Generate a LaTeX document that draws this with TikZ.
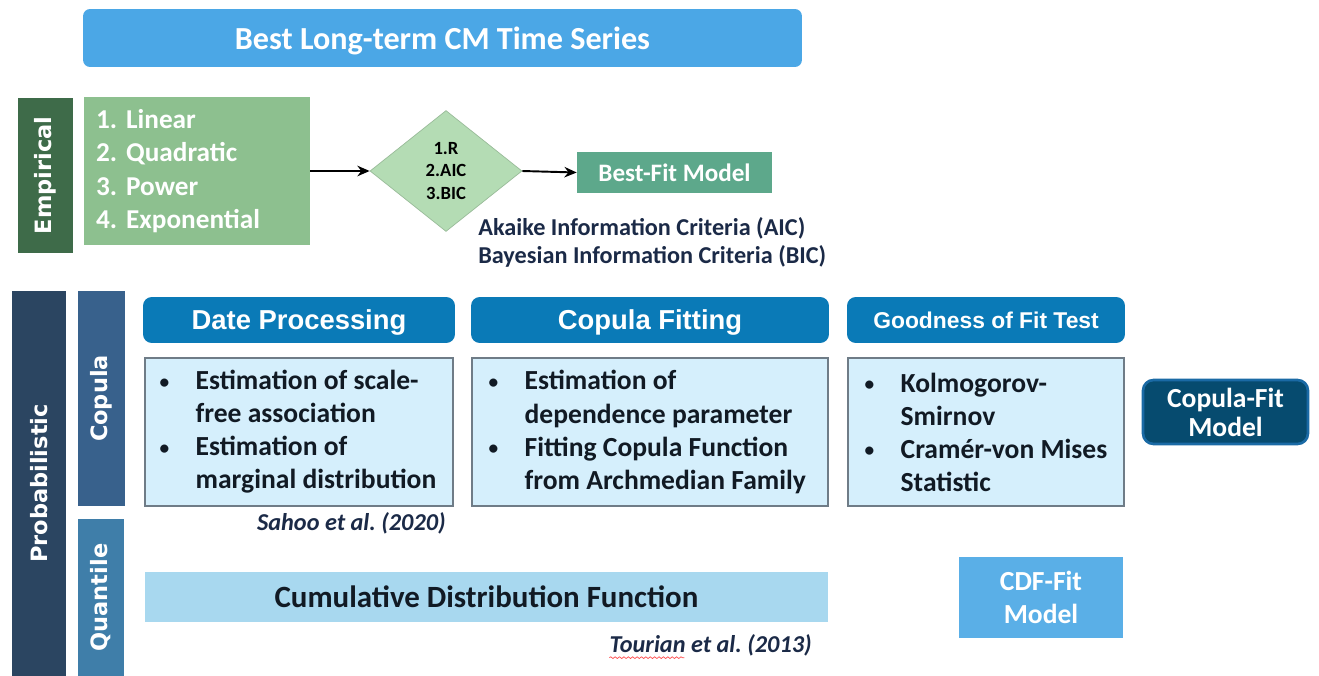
\documentclass[tikz,border=0pt]{standalone}
\usepackage{fontspec}
\setmainfont{Carlito}
\newfontfamily\arialfont{Liberation Sans}
\newfontfamily\dejavufont{DejaVu Sans}
\usetikzlibrary{shapes.geometric,arrows.meta,calc,decorations.pathmorphing}
\frenchspacing

\definecolor{titleblue}{HTML}{4BA7E6}
\definecolor{empgreen}{HTML}{3E6B49}
\definecolor{listgreen}{HTML}{8DC08F}
\definecolor{diagreen}{HTML}{B4DCB4}
\definecolor{bestgreen}{HTML}{5DA88B}
\definecolor{probblue}{HTML}{2B4561}
\definecolor{copblue}{HTML}{38618C}
\definecolor{quantblue}{HTML}{3F7EA9}
\definecolor{hdrblue}{HTML}{0A7AB7}
\definecolor{bodyfill}{HTML}{D5EFFC}
\definecolor{bodyline}{HTML}{6F7C87}
\definecolor{copfit}{HTML}{064B6F}
\definecolor{copfitline}{HTML}{1A6AA5}
\definecolor{cdfbar}{HTML}{A8D8EF}
\definecolor{cdffit}{HTML}{5AAFE7}
\definecolor{ink}{HTML}{111A24}
\definecolor{citeink}{HTML}{1B2A47}

\newcommand{\fsz}[2]{\fontsize{#1}{#2}\selectfont}
\newcommand{\bul}{\makebox[0.72cm][l]{\raisebox{1pt}{\fsz{11}{11}\textbullet}}}
\newcommand{\ind}{\hspace*{0.72cm}}

\tikzset{
  vbar/.style={fill=#1, text=white, inner sep=0pt, rotate=90,
    font=\dejavufont\bfseries\fsz{12.8}{15}},
  hdr/.style={fill=hdrblue, text=white, rounded corners=5pt, inner sep=0pt, text depth=0pt,
    minimum height=0.92cm, font=\arialfont\bfseries\fsz{15.6}{18}},
  body/.style={fill=bodyfill, draw=bodyline, line width=0.8pt, inner sep=0pt,
    minimum height=2.96cm},
  bodytext/.style={anchor=west, align=left, inner sep=0pt, text=ink,
    font=\bfseries\fsz{15.7}{18.8}},
  fitbox/.style={text=white, inner sep=0pt, align=center,
    font=\bfseries\fsz{15.7}{19}},
  cite/.style={inner sep=0pt, text=citeink, font=\bfseries\itshape\fsz{13.8}{16}},
  arr/.style={-{Stealth[length=7pt,width=6pt]}, line width=1.1pt},
}

\begin{document}
\begin{tikzpicture}[x=0.02cm,y=-0.02cm]
    \useasboundingbox (0,0) rectangle (1319,676);
    % Заголовок
    \node[fill=titleblue, rounded corners=4pt, text=white, inner sep=0pt, text depth=0pt,
      minimum width=14.38cm, minimum height=1.16cm,
      font=\bfseries\fsz{18.3}{20}] (title) at (442.5,38) {Best Long-term CM Time Series};
    % Эмпирическая часть
    \node[vbar=empgreen, minimum width=3.1cm, minimum height=1.1cm] (emp) at (45.5,175.5) {Empirical};
    \node[fill=listgreen, text=white, align=left, inner xsep=0.24cm, inner ysep=0pt,
      text width=4.04cm, minimum height=2.96cm,
      font=\bfseries\fsz{15.5}{19}] (models) at (197,171)
      {1. Linear\\2. Quadratic\\3. Power\\4. Exponential};
    \node[diamond, fill=diagreen, draw=diagreen!85!black, line width=0.4pt, inner sep=0pt,
      minimum width=3.04cm, minimum height=2.42cm, align=center,
      font=\bfseries\fsz{10.6}{12.8}] (crit) at (446,171) {1.R\\2.AIC\\3.BIC};
    \node[fill=bestgreen, text=white, inner sep=0pt, minimum width=3.9cm,
      minimum height=0.82cm, font=\bfseries\fsz{14.3}{16}] (best) at (674.5,172.5) {Best-Fit Model};
    \draw[arr] (models.east) -- (crit.west);
    \draw[arr] (crit.east) -- (best.west);
    \node[anchor=west, inner sep=0pt, text=citeink, font=\bfseries\fsz{13.8}{16}] (aic) at (478,228)
      {Akaike Information Criteria (AIC)};
    \node[anchor=west, inner sep=0pt, text=citeink, font=\bfseries\fsz{13.8}{16}] (bic) at (478,256)
      {Bayesian Information Criteria (BIC)};
    % Вероятностная часть
    \node[vbar=probblue, minimum width=7.7cm, minimum height=1.08cm] (prob) at (39,483.5) {Probabilistic};
    \node[vbar=copblue, minimum width=4.3cm, minimum height=0.94cm] (cop) at (101.5,398.5) {Copula};
    \node[vbar=quantblue, minimum width=3.14cm, minimum height=0.92cm] (quant) at (101,597.5) {Quantile};
    \node[hdr, minimum width=6.24cm] (hdp) at (299,320) {Date Processing};
    \node[hdr, minimum width=7.16cm] (hcf) at (650,320) {Copula Fitting};
    \node[hdr, minimum width=5.56cm, font=\arialfont\bfseries\fsz{13}{16}] (hgf) at (986,320) {Goodness of Fit Test};
    \node[body, minimum width=6.16cm] (bdp) at (299,432) {};
    \node[body, minimum width=7.12cm] (bcf) at (650,432) {};
    \node[body, minimum width=5.52cm] (bgf) at (986,432) {};
    \node[bodytext] (tdp) at ([xshift=0.3cm]bdp.west)
      {\bul Estimation of scale-\\\ind free association\\\bul Estimation of\\\ind marginal distribution};
    \node[bodytext] (tcf) at ([xshift=0.34cm]bcf.west)
      {\bul Estimation of\\\ind dependence parameter\\\bul Fitting Copula Function\\\ind from Archmedian Family};
    \node[bodytext] (tgf) at ([xshift=0.34cm]bgf.west)
      {\bul Kolmogorov-\\\ind Smirnov\\\bul Cram\'er-von Mises\\\ind Statistic};
    \node[fitbox, fill=copfit, draw=copfitline, line width=1.5pt, rounded corners=6pt,
      minimum width=3.3cm, minimum height=1.28cm, font=\bfseries\fsz{15.7}{16.5}] (copmodel) at (1225.5,412)
      {Copula-Fit\\Model};
    \node[cite, anchor=east] (sahoo) at (446,523) {Sahoo et al. (2020)};
    \node[fill=cdfbar, text=ink, inner sep=0pt, minimum width=13.66cm, minimum height=1cm,
      font=\bfseries\fsz{17.6}{20}] (cdf) at (486.5,597) {Cumulative Distribution Function};
    \node[cite, anchor=east] (tour) at (812,645) {Tourian et al. (2013)};
    \draw[red!70, line width=0.4pt, decorate, decoration={snake, amplitude=0.5pt, segment length=2.5pt}]
      ($(tour.south west)+(0,1.5)$) -- ($(tour.south west)!0.37!(tour.south east)+(0,1.5)$);
    \node[fitbox, fill=cdffit, minimum width=3.28cm, minimum height=1.62cm] (cdfmodel) at (1041,597.5)
      {CDF-Fit\\Model};
\end{tikzpicture}
\end{document}
